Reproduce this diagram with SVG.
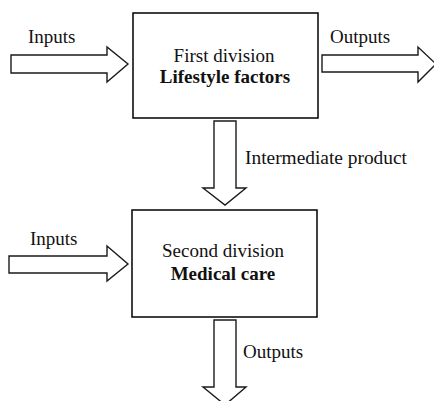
<svg xmlns="http://www.w3.org/2000/svg" width="434" height="401" viewBox="0 0 434 401">
<style>
.box{fill:#fff;stroke:#000;stroke-width:1.5}
.arr{fill:#fff;stroke:#1a1a1a;stroke-width:1.4;stroke-linejoin:miter}
text{font-family:"Liberation Serif","Times New Roman",serif;font-size:19px;fill:#111}
.b{font-weight:bold}
.c{text-anchor:middle}
</style>
<rect width="434" height="401" fill="#fff"/>
<g id="connectors">
<polygon class="arr" points="11,55 107,55 107,47 128,64 107,82 107,73 11,73"/>
<polygon class="arr" points="322,55 418,55 418,47 436,64 418,82 418,72 322,72"/>
<polygon class="arr" points="214,121 236,121 236,188 246,188 225,205 203,188 214,188"/>
<polygon class="arr" points="9,256 107,256 107,246 128,264 107,281 107,273 9,273"/>
<polygon class="arr" points="214,320 236,320 236,387 246,387 225,405 203,387 214,387"/>
<text x="28" y="43">Inputs</text>
<text x="330" y="43">Outputs</text>
<text x="245" y="164" textLength="162" lengthAdjust="spacingAndGlyphs">Intermediate product</text>
<text x="30" y="245">Inputs</text>
<text x="243" y="358">Outputs</text>
</g>
<g id="first-division">
<rect class="box" x="133" y="13" width="185" height="105"/>
<text class="c" x="224" y="62">First division</text>
<text class="c b" x="225" y="83">Lifestyle factors</text>
</g>
<g id="second-division">
<rect class="box" x="132" y="210" width="185" height="107"/>
<text class="c" x="223" y="257">Second division</text>
<text class="c b" x="223" y="280">Medical care</text>
</g>
</svg>
